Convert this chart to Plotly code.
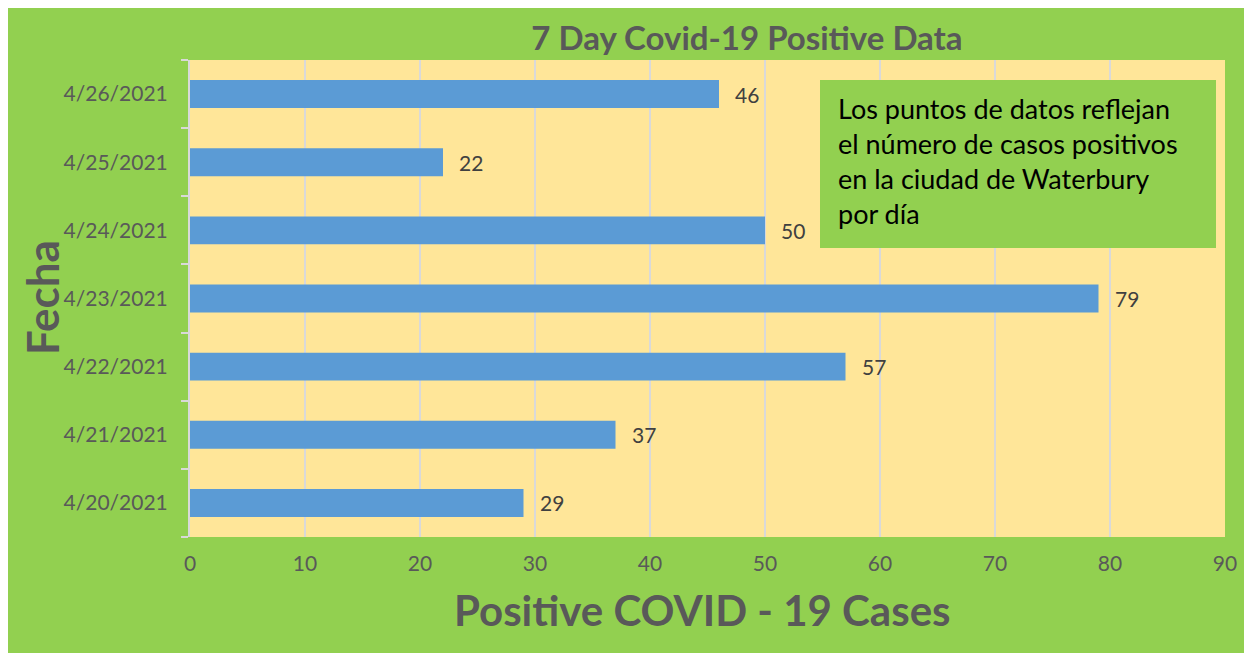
import plotly.graph_objects as go

dates = ["4/20/2021", "4/21/2021", "4/22/2021", "4/23/2021", "4/24/2021", "4/25/2021", "4/26/2021"]
cases = [29, 37, 57, 79, 50, 22, 46]
x_ticks = [0, 10, 20, 30, 40, 50, 60, 70, 80, 90]

# page body adds an 8px margin; work in reference pixel coords and shift
OFF = 8
W, H = 1252 - OFF, 653 - OFF
PL, PT, PR, PB = 190, 60, 1225, 537  # plot area in reference pixels
L, T = PL - OFF, PT - OFF
R, B = W - (PR - OFF), H - (PB - OFF)
pw, ph = W - L - R, H - T - B


def px(x):
    return (x - OFF - L) / pw


def py(y):
    return (H - B - (y - OFF)) / ph


FONT = "Lato, 'Open Sans', sans-serif"
GRAY = "#595959"

fig = go.Figure(go.Bar(
    x=cases, y=dates, orientation="h",
    marker=dict(color="#5B9BD5", line=dict(width=0)),
    width=0.41,
))

for d, c in zip(dates, cases):
    fig.add_annotation(x=c, y=d, xref="x", yref="y", text=str(c), showarrow=False,
                       xanchor="left", xshift=14,
                       font=dict(family=FONT, size=21, color="#404040"))

fig.update_layout(
    width=W, height=H,
    margin=dict(l=L, r=R, t=T, b=B),
    paper_bgcolor="#92D050",
    plot_bgcolor="#FFE699",
    showlegend=False,
    title=dict(text="<b>7 Day Covid-19 Positive Data</b>", xref="paper", x=px(747), xanchor="center",
               y=1 - (38 - OFF) / H, yanchor="middle",
               font=dict(family=FONT, size=33, color=GRAY)),
    xaxis=dict(range=[0, 90], tickvals=x_ticks, showgrid=True, gridcolor="#D9D9D9", gridwidth=2,
               zeroline=False, showline=False, ticks="", ticklabelstandoff=12,
               tickfont=dict(family=FONT, size=21, color=GRAY)),
    yaxis=dict(type="category", categoryorder="array", categoryarray=dates,
               showgrid=False, showline=True, linecolor="#D9D9D9", linewidth=2,
               ticks="outside", tickson="boundaries", ticklen=7, tickcolor="#D9D9D9", tickwidth=2,
               ticklabelstandoff=16,
               tickfont=dict(family=FONT, size=21, color=GRAY)),
    bargap=0.59,
)

fig.add_annotation(xref="paper", yref="paper", x=px(702), y=py(610), xanchor="center", yanchor="middle",
                   showarrow=False, text="<b>Positive COVID - 19 Cases</b>",
                   font=dict(family=FONT, size=42, color=GRAY))
fig.add_annotation(xref="paper", yref="paper", x=px(42), y=py(298), xanchor="center", yanchor="middle",
                   showarrow=False, text="<b>Fecha</b>", textangle=-90,
                   font=dict(family=FONT, size=44, color=GRAY))

fig.add_shape(type="rect", xref="paper", yref="paper",
              x0=px(820), x1=px(1216), y0=py(248), y1=py(80),
              fillcolor="#92D050", line=dict(width=0), layer="above")
fig.add_annotation(xref="paper", yref="paper", x=px(836), y=py(90), xanchor="left", yanchor="top",
                   align="left", showarrow=False,
                   text="Los puntos de datos reflejan<br>el número de casos positivos<br>en la ciudad de Waterbury<br>por día",
                   font=dict(family=FONT, size=27, color="#000000"))

fig.write_html("out.html")
